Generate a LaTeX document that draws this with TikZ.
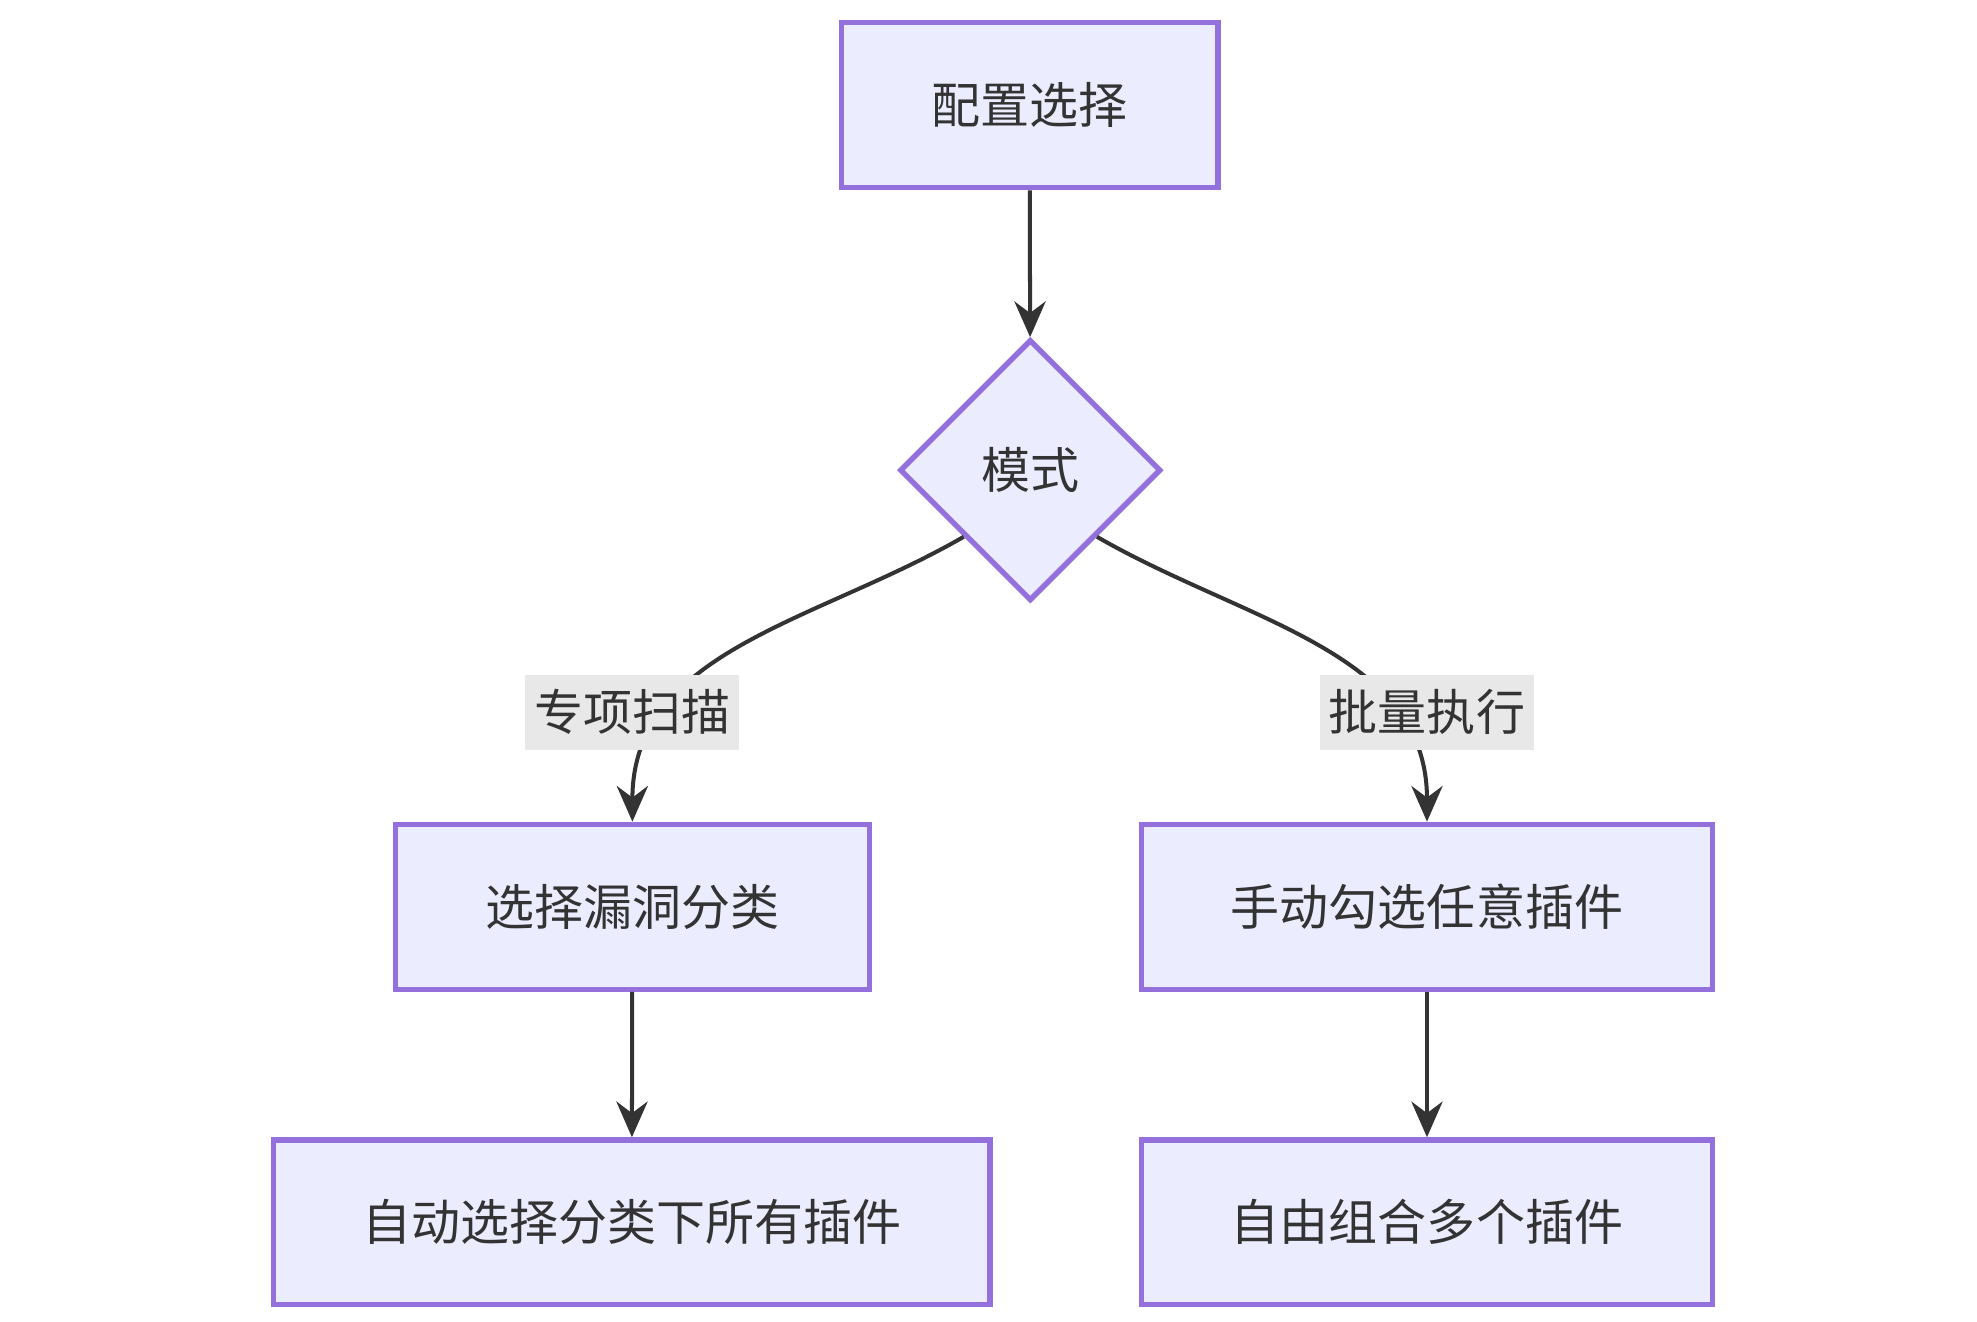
\documentclass[tikz,border=0pt]{standalone}
\usepackage{fontspec}
\setmainfont{Noto Sans CJK SC}
\usetikzlibrary{positioning,arrows.meta,shapes.geometric}
\definecolor{boxfill}{HTML}{ECECFF}
\definecolor{boxline}{HTML}{9370DB}
\definecolor{ink}{HTML}{333333}
\definecolor{lblfill}{HTML}{E8E8E8}

\begin{document}
\begin{tikzpicture}
   [x=0.01cm,y=-0.01cm,
	box/.style={rectangle,draw=boxline,fill=boxfill,line width=1.2pt,
	 minimum height=1.3cm,text=ink,font=\fontsize{11pt}{13pt}\selectfont},
	choice/.style={diamond,draw=boxline,fill=boxfill,line width=1.2pt,
	 minimum width=2.06cm,minimum height=2.06cm,inner sep=0pt,text=ink,
	 font=\fontsize{11pt}{13pt}\selectfont},
	lbl/.style={fill=lblfill,text=ink,inner sep=2pt,minimum height=0.59cm,
	 font=\fontsize{11pt}{13pt}\selectfont},
	arr/.style={-{Stealth[length=8pt,width=7pt]},ink,line width=0.9pt}]

\useasboundingbox (0,0) rectangle (1560,1043);

\node [box,minimum width=2.97cm] (cfg) at (812.5,83) {配置选择};
\node [choice] (mode) at (813,371) {模式};
\node [box,minimum width=3.74cm] (cat) at (499,715.5) {选择漏洞分类};
\node [box,minimum width=4.5cm] (pick) at (1126,715.5) {手动勾选任意插件};
\node [box,minimum width=5.65cm] (auto) at (498.5,964.5) {自动选择分类下所有插件};
\node [box,minimum width=4.5cm] (free) at (1126,964.5) {自由组合多个插件};

\draw [arr] (cfg) -- (mode);
\draw [arr] (mode.south west) to[out=-150,in=90] (cat.north);
\draw [arr] (mode.south east) to[out=-30,in=90] (pick.north);
\draw [arr] (cat) -- (auto);
\draw [arr] (pick) -- (free);

\node [lbl] (scan) at (499,562) {专项扫描};
\node [lbl] (batch) at (1126,562) {批量执行};
\end{tikzpicture}
\end{document}
